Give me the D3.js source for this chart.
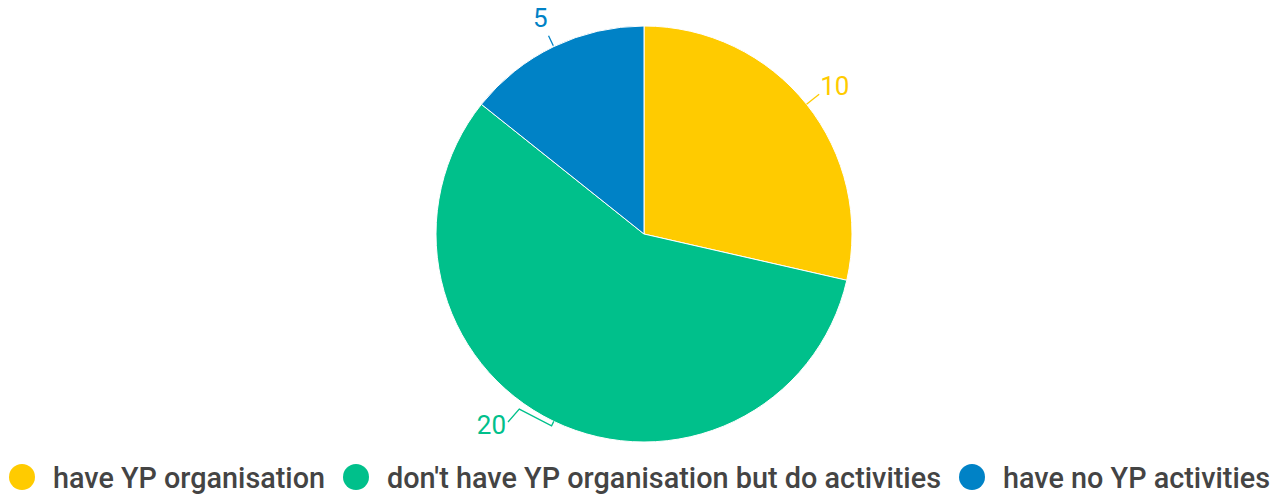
<!DOCTYPE html>
<html>
<head>
<meta charset="utf-8">
<script src="https://cdn.jsdelivr.net/npm/d3@7"></script>
<style>
  body { margin: 0; background: #fff; }
  svg { display: block; font-family: Roboto, "Noto Sans", sans-serif; }
</style>
</head>
<body>
<div id="chart"></div>
<script>
var categories = ['have YP organisation', "don't have YP organisation but do activities", 'have no YP activities'];
var values = [10, 20, 5];
var colors = ['#ffcb00', '#00c08b', '#0082c6'];

var width = 1286, height = 495;
var cx = 644, cy = 234, radius = 208;

var svg = d3.select('#chart').append('svg')
	.attr('width', width)
	.attr('height', height);

var pie = d3.pie().sort(null).value(function(d) { return d; });
var arcs = pie(values);

var arc = d3.arc().innerRadius(0).outerRadius(radius);

var g = svg.append('g').attr('transform', 'translate(' + cx + ',' + cy + ')');

g.selectAll('path')
	.data(arcs)
	.enter().append('path')
	.attr('d', arc)
	.attr('fill', function(d, i) { return colors[i]; })
	.attr('stroke', '#fff')
	.attr('stroke-width', 1);

// point at angle a (radians, clockwise from 12 o'clock) and radius r
function pt(a, r) {
	return [r * Math.sin(a), -r * Math.cos(a)];
}
function mid(d) { return (d.startAngle + d.endAngle) / 2; }

// leader lines, hand tuned per slice like the original
var leaders = [
	function(d) { return [pt(mid(d), radius), pt(mid(d), radius + 16)]; },
	function(d) {
		var m = mid(d);
		return [pt(m, radius), pt(m, radius + 5), pt(m + 0.17, radius + 7), [-136, 188]];
	},
	function(d) { return [pt(mid(d), radius + 1), pt(mid(d), radius + 12)]; }
];
var labelPos = [
	function(d) { var p = pt(mid(d), radius + 16); return { x: p[0] + 1, y: p[1] + 1, anchor: 'start' }; },
	function(d) { return { x: -138, y: 200, anchor: 'end' }; },
	function(d) { var p = pt(mid(d), radius + 12); return { x: p[0] - 1, y: p[1] - 9, anchor: 'end' }; }
];

var line = d3.line();

g.selectAll('path.leader')
	.data(arcs)
	.enter().append('path')
	.attr('class', 'leader')
	.attr('d', function(d, i) { return line(leaders[i](d)); })
	.attr('fill', 'none')
	.attr('stroke', function(d, i) { return colors[i]; })
	.attr('stroke-width', 1.3);

g.selectAll('text.value')
	.data(arcs)
	.enter().append('text')
	.attr('class', 'value')
	.each(function(d, i) {
		var p = labelPos[i](d);
		d3.select(this)
			.attr('x', p.x)
			.attr('y', p.y)
			.attr('text-anchor', p.anchor);
	})
	.attr('fill', function(d, i) { return colors[i]; })
	.attr('font-size', 26)
	.text(function(d) { return d.data; });

// legend
var legendX = [22, 356, 972];
var legendW = [272, 554, 267];
var legend = svg.append('g');

var items = legend.selectAll('g')
	.data(categories)
	.enter().append('g')
	.attr('transform', function(d, i) { return 'translate(' + legendX[i] + ',477)'; });

items.append('circle')
	.attr('r', 13)
	.attr('fill', function(d, i) { return colors[i]; });

items.append('text')
	.attr('x', 31)
	.attr('y', 10.5)
	.attr('font-size', 30)
	.attr('font-weight', 500)
	.attr('fill', '#444')
	.attr('textLength', function(d, i) { return legendW[i]; })
	.attr('lengthAdjust', 'spacingAndGlyphs')
	.text(function(d) { return d; });
</script>
</body>
</html>
